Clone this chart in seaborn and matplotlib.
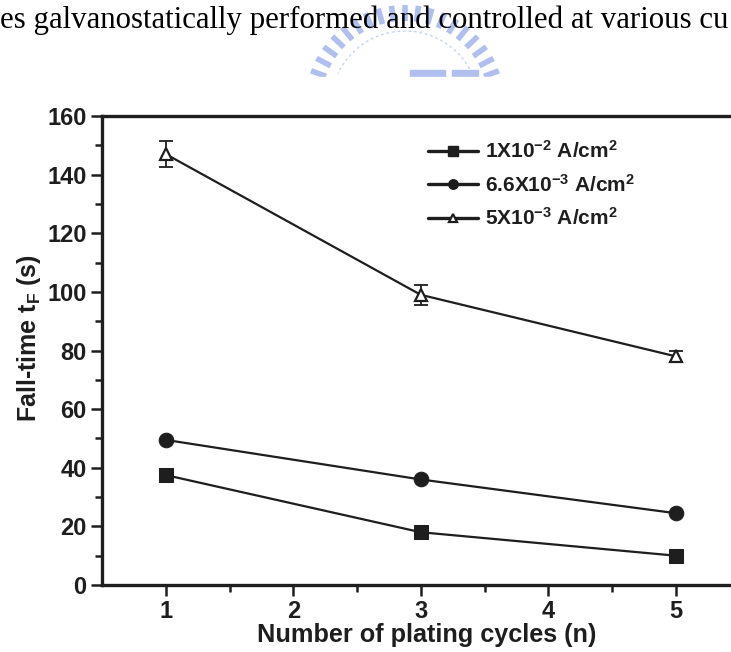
import numpy as np
import pandas as pd
import matplotlib
matplotlib.use("Agg")
import matplotlib.pyplot as plt
from matplotlib.lines import Line2D
from matplotlib.patches import Rectangle
import seaborn as sns

# ---- data -------------------------------------------------------------
cycles = [1, 3, 5]
labels = ["1X10$^{-2}$ A/cm$^{2}$", "6.6X10$^{-3}$ A/cm$^{2}$", "5X10$^{-3}$ A/cm$^{2}$"]
fall_1e2 = [37.5, 18.0, 10.0]
fall_66e3 = [49.5, 36.0, 24.5]
fall_5e3 = [147.0, 99.0, 78.0]
err_5e3 = [4.5, 3.5, 2.0]

x_ticks = [1, 2, 3, 4, 5]
y_ticks = [0, 20, 40, 60, 80, 100, 120, 140, 160]

df = pd.DataFrame({
    "cycles": cycles * 3,
    "tf": fall_1e2 + fall_66e3 + fall_5e3,
    "density": [labels[0]] * 3 + [labels[1]] * 3 + [labels[2]] * 3,
})

# ---- style ------------------------------------------------------------
sns.set_style("ticks")
plt.rcParams["font.family"] = ["Liberation Sans", "DejaVu Sans"]
plt.rcParams["font.weight"] = "bold"
plt.rcParams["mathtext.fontset"] = "custom"
plt.rcParams["mathtext.rm"] = "Liberation Sans:bold"
plt.rcParams["mathtext.it"] = "Liberation Sans:bold"
plt.rcParams["mathtext.bf"] = "Liberation Sans:bold"

ink = "#1e1e1e"
W, H = 731, 652
fig = plt.figure(figsize=(W / 100, H / 100), dpi=100)
fig.patch.set_facecolor("white")

def fx(px):
    return px / W

def fy(py):
    return 1 - py / H

# ---- page fragment above the figure ----------------------------------
# faint university emblem: arc of short radial strokes
cx, cy = 405, 105
for ang in np.linspace(np.radians(20), np.radians(160), 19):
    r0, r1 = 84, 100
    xs = [cx + r0 * np.cos(ang), cx + r1 * np.cos(ang)]
    ys = [cy - r0 * np.sin(ang), cy - r1 * np.sin(ang)]
    fig.add_artist(Line2D([fx(v) for v in xs], [fy(v) for v in ys],
                          color="#b0bfee", lw=4.0, solid_capstyle="butt", zorder=0.1))
arc_t = np.linspace(np.radians(25), np.radians(155), 60)
fig.add_artist(Line2D([fx(cx + 74 * np.cos(t)) for t in arc_t],
                      [fy(cy - 74 * np.sin(t)) for t in arc_t],
                      color="#c9d4f4", lw=1.0, ls=(0, (2, 2)), zorder=0.1))
for x0, x1 in [(410, 445), (452, 478)]:
    fig.add_artist(Rectangle((fx(x0), fy(80)), fx(x1 - x0), (10 / H),
                             color="#b0bfee", zorder=0.1))
# white panel of the chart covers the lower part of the emblem
fig.add_artist(Rectangle((0, 0), 1, fy(77), color="white", zorder=0.2))

fig.text(fx(0), fy(20), "es galvanostatically performed and controlled at various cu",
         family="Liberation Serif", fontweight="normal", fontsize=22.2,
         color="black", va="center", ha="left", zorder=1)

# ---- chart ------------------------------------------------------------
x_lo, x_hi = 0.5, 5.5
px_per_x = 127.5
ax_left, ax_bottom, ax_top = 102, 585, 116
ax_right = ax_left + (x_hi - x_lo) * px_per_x
ax = fig.add_axes([fx(ax_left), fy(ax_bottom), fx(ax_right - ax_left),
                   (ax_bottom - ax_top) / H])
ax.set_zorder(2)

styles = [
    dict(marker="s", markersize=10, markerfacecolor=ink, markeredgecolor=ink),
    dict(marker="o", markersize=10.5, markerfacecolor=ink, markeredgecolor=ink),
    dict(marker="^", markersize=9, markerfacecolor="white", markeredgecolor=ink,
         markeredgewidth=1.6),
]
for lab, st in zip(labels, styles):
    sub = df[df["density"] == lab]
    sns.lineplot(data=sub, x="cycles", y="tf", ax=ax, color=ink, lw=1.6,
                 legend=False, **st)

ax.errorbar(cycles, fall_5e3, yerr=err_5e3, fmt="none", ecolor=ink,
            elinewidth=1.3, capsize=5, capthick=1.3, zorder=1)

ax.set_xlim(x_lo, x_hi)
ax.set_ylim(0, 160)
ax.set_xticks(x_ticks)
ax.set_xticks(np.arange(1.5, 5.0, 1.0), minor=True)
ax.set_yticks(y_ticks)
ax.set_yticks(np.arange(10, 160, 20), minor=True)
ax.tick_params(axis="both", which="major", direction="out", length=8, width=1.8,
               labelsize=17, colors=ink, pad=3)
ax.tick_params(axis="both", which="minor", direction="out", length=5, width=1.8,
               colors=ink)
for t in ax.get_xticklabels() + ax.get_yticklabels():
    t.set_fontweight("bold")

for side in ["left", "bottom", "top"]:
    ax.spines[side].set_linewidth(2.4)
    ax.spines[side].set_color(ink)

ax.set_xlabel("Number of plating cycles (n)", fontsize=18.2, fontweight="bold",
              color=ink)
ax.set_ylabel("Fall-time t$_{F}$ (s)", fontsize=18, fontweight="bold",
              color=ink)
ax.yaxis.set_label_coords(-0.093, 0.527)
ax.xaxis.set_label_coords(0.509, -0.080)

handles = [Line2D([], [], color=ink, lw=2.4, **st) for st in styles]
for h in handles:
    h.set_markersize(h.get_markersize() * 0.65)
leg = ax.legend(handles, labels, loc="upper left", frameon=False,
                bbox_to_anchor=(fx(420), fy(132)), bbox_transform=fig.transFigure,
                fontsize=15, handlelength=2.4, handletextpad=0.3,
                labelspacing=0.55, borderaxespad=0)
for t in leg.get_texts():
    t.set_color(ink)
    t.set_fontweight("bold")

fig.savefig("out.png", dpi=100)
